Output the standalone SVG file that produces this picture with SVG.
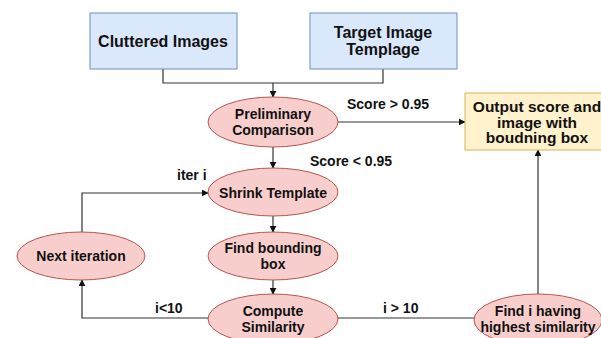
<svg xmlns="http://www.w3.org/2000/svg" width="601" height="338" viewBox="0 0 601 338">
<defs>
<marker id="ah" viewBox="0 0 10 10" refX="9" refY="5" markerWidth="7" markerHeight="7" markerUnits="userSpaceOnUse" orient="auto">
<path d="M0,0 L10,5 L0,10 Z" fill="#111"/>
</marker>
<style>
.t{font-family:"Liberation Sans",Arial,sans-serif;font-weight:bold;font-size:14px;fill:#111;text-anchor:middle}
.tb{font-size:16px}
.to{font-size:15.5px}
.l{font-family:"Liberation Sans",Arial,sans-serif;font-weight:bold;font-size:14px;fill:#111}
.bx{fill:#dae8fc;stroke:#6c8ebf;stroke-width:1}
.el{fill:#f8cecc;stroke:#b85450;stroke-width:1}
.ob{fill:#fff2cc;stroke:#d6b656;stroke-width:1}
.c{fill:none;stroke:#333;stroke-width:1.2}
.a{fill:none;stroke:#333;stroke-width:1.2;marker-end:url(#ah)}
</style>
</defs>
<rect width="601" height="338" fill="#fff"/>
<g id="connectors">
<path class="c" d="M163,69 V83 H383 V69"/>
<path class="a" d="M273,83 V97"/>
<path class="a" d="M338,122 H465"/>
<path class="a" d="M273,147 V168"/>
<path class="a" d="M273,216 V232"/>
<path class="a" d="M273,280 V294"/>
<path class="a" d="M208,318 H82 V280"/>
<path class="a" d="M82,232 V193 H208"/>
<path class="c" d="M338,318 H475"/>
<path class="a" d="M538,294 V150"/>
<text class="l" x="347" y="109">Score &gt; 0.95</text>
<text class="l" x="310" y="166">Score &lt; 0.95</text>
<text class="l" x="177" y="180">iter i</text>
<text class="l" x="155" y="313">i&lt;10</text>
<text class="l" x="383" y="313">i &gt; 10</text>
</g>
<g id="cluttered">
<rect class="bx" x="90" y="13" width="147" height="56"/>
<text class="t tb" x="163" y="47">Cluttered Images</text>
</g>
<g id="target">
<rect class="bx" x="310" y="13" width="147" height="56"/>
<text class="t tb" x="383" y="38">Target Image</text>
<text class="t tb" x="383" y="55">Templage</text>
</g>
<g id="preliminary">
<ellipse class="el" cx="273" cy="122" rx="65" ry="25"/>
<text class="t" x="273" y="119">Preliminary</text>
<text class="t" x="273" y="135">Comparison</text>
</g>
<g id="output">
<rect class="ob" x="465" y="93" width="144" height="57"/>
<text class="t to" x="537" y="112">Output score and</text>
<text class="t to" x="537" y="127.5">image with</text>
<text class="t to" x="537" y="143">boudning box</text>
</g>
<g id="shrink">
<ellipse class="el" cx="273" cy="192" rx="65" ry="24"/>
<text class="t" x="273" y="198">Shrink Template</text>
</g>
<g id="findbox">
<ellipse class="el" cx="273" cy="256" rx="65" ry="24"/>
<text class="t" x="273" y="253">Find bounding</text>
<text class="t" x="273" y="269">box</text>
</g>
<g id="compute">
<ellipse class="el" cx="273" cy="319" rx="65" ry="25"/>
<text class="t" x="273" y="316">Compute</text>
<text class="t" x="273" y="332">Similarity</text>
</g>
<g id="next">
<ellipse class="el" cx="81" cy="256" rx="64" ry="24"/>
<text class="t" x="81" y="261">Next iteration</text>
</g>
<g id="findi">
<ellipse class="el" cx="538" cy="320" rx="64" ry="26"/>
<text class="t" x="538" y="316">Find i having</text>
<text class="t" x="538" y="332">highest similarity</text>
</g>
</svg>
